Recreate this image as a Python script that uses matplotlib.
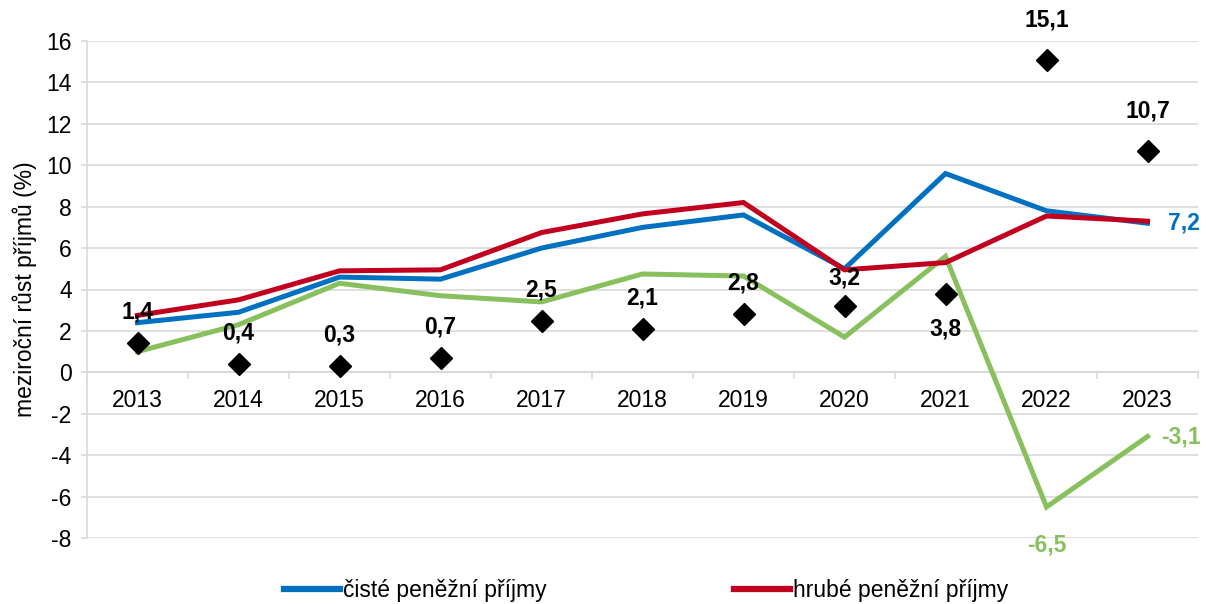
import matplotlib
matplotlib.use("Agg")
import matplotlib.pyplot as plt
from matplotlib.lines import Line2D

plt.rcParams['font.family'] = ['Liberation Sans', 'DejaVu Sans']

years = ["2013", "2014", "2015", "2016", "2017", "2018", "2019", "2020", "2021", "2022", "2023"]
ciste = [2.4, 2.9, 4.6, 4.5, 6.0, 7.0, 7.6, 5.0, 9.6, 7.8, 7.2]
hrube = [2.75, 3.5, 4.9, 4.95, 6.75, 7.65, 8.2, 4.95, 5.3, 7.55, 7.3]
realne = [1.0, 2.3, 4.3, 3.7, 3.4, 4.75, 4.65, 1.7, 5.6, -6.5, -3.1]
inflace = [1.4, 0.4, 0.3, 0.7, 2.5, 2.1, 2.8, 3.2, 3.8, 15.1, 10.7]

BLUE = "#0070C0"
RED = "#C0001E"
GREEN = "#88C05E"
GRID = "#D9D9D9"

FS = 16.5
FSB = 16.5

W, H = 1206, 604
fig = plt.figure(figsize=(W / 100, H / 100), dpi=100)
ax = fig.add_axes([87 / W, (H - 538) / H, (1198 - 87) / W, (538 - 41) / H])

x = list(range(len(years)))
ax.plot(x, ciste, color=BLUE, lw=3.6, solid_joinstyle='miter', zorder=3)
ax.plot(x, hrube, color=RED, lw=3.6, solid_joinstyle='miter', zorder=4)
ax.plot(x, realne, color=GREEN, lw=3.6, solid_joinstyle='miter', zorder=3)
ax.plot(x, inflace, linestyle='none', marker='D', color='black', markersize=11.5, zorder=5)

ax.set_xlim(-0.5, len(years) - 0.5)
ax.set_ylim(-8, 16)
ax.set_yticks(range(-8, 17, 2))
ax.set_yticklabels([str(v) for v in range(-8, 17, 2)], fontsize=FS)
ax.grid(axis='y', color=GRID, lw=1.2, zorder=0)
ax.set_axisbelow(True)

for s in ['top', 'right']:
    ax.spines[s].set_visible(False)
ax.spines['left'].set_color(GRID)
ax.spines['left'].set_linewidth(1.2)
ax.spines['bottom'].set_position(('data', 0))
ax.spines['bottom'].set_color(GRID)
ax.spines['bottom'].set_linewidth(1.5)

ax.set_xticks(x)
ax.set_xticklabels(years, fontsize=FS)
ax.set_xticks([i - 0.5 for i in range(len(years) + 1)], minor=True)
ax.tick_params(axis='x', which='major', length=0, pad=12)
ax.tick_params(axis='x', which='minor', length=5, color=GRID, width=1.2)
ax.tick_params(axis='y', length=4, color=GRID, width=1.2, pad=7)

ax.set_ylabel("meziroční růst příjmů (%)", fontsize=FS)
ax.yaxis.set_label_coords((25 - 87) / (1198 - 87), 0.5)
ax.yaxis.label.set_va('center')

def fmt(v):
    return f"{v:.1f}".replace('.', ',')

# label offsets in points (vertical)
lab_dy = [14, 14, 14, 14, 14, 14, 14, 12, -17, 20, 20]
for i, v in enumerate(inflace):
    dy = lab_dy[i]
    ax.annotate(fmt(v), (i, v), xytext=(0, dy), textcoords='offset points',
                ha='center', va='bottom' if dy > 0 else 'top',
                fontsize=FSB, fontweight='bold', zorder=6)

last = len(years) - 1
ax.annotate(fmt(ciste[last]), (last, ciste[last]), xytext=(15, 0), textcoords='offset points',
            ha='left', va='center', fontsize=FSB, fontweight='bold', color=BLUE, annotation_clip=False)
ax.annotate(fmt(realne[last]), (last, realne[last]), xytext=(10, 0), textcoords='offset points',
            ha='left', va='center', fontsize=FSB, fontweight='bold', color=GREEN, annotation_clip=False)
imin = realne.index(min(realne))
ax.annotate(fmt(realne[imin]), (imin, realne[imin]), xytext=(0, -19), textcoords='offset points',
            ha='center', va='top', fontsize=FSB, fontweight='bold', color=GREEN, annotation_clip=False)

handles = [Line2D([], [], color=BLUE, lw=4.5), Line2D([], [], color=RED, lw=4.5)]
labels = ["čisté peněžní příjmy", "hrubé peněžní příjmy"]
fig.legend(handles, labels, loc='center', bbox_to_anchor=(646 / W, 1 - 591 / H), ncol=2,
           frameon=False, fontsize=FS, handlelength=2.45, handletextpad=0.1, columnspacing=8.2,
           borderaxespad=0, borderpad=0)

fig.savefig("out.png", dpi=100)
